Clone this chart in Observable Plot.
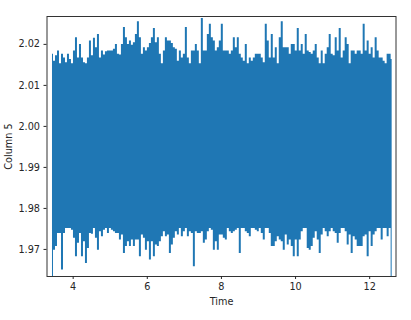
<!DOCTYPE html>
<html>
<head>
<meta charset="utf-8">
<style>html,body{margin:0;padding:0;background:#fff}svg{display:block}</style>
<script src="https://cdn.jsdelivr.net/npm/d3@7"></script>
<script src="https://cdn.jsdelivr.net/npm/@observablehq/plot@0.6"></script>
</head>
<body>
<div id="chart"></div>
<script>
const times = [3.442,3.496,3.550,3.604,3.658,3.712,3.766,3.819,3.873,3.927,
3.981,4.035,4.089,4.143,4.197,4.251,4.305,4.358,4.412,4.466,
4.520,4.574,4.628,4.682,4.736,4.790,4.844,4.898,4.951,5.005,
5.059,5.113,5.167,5.221,5.275,5.329,5.383,5.437,5.491,5.545,
5.598,5.652,5.706,5.760,5.814,5.868,5.922,5.976,6.030,6.084,
6.138,6.191,6.245,6.299,6.353,6.407,6.461,6.515,6.569,6.623,
6.677,6.730,6.784,6.838,6.892,6.946,7.000,7.054,7.108,7.162,
7.216,7.270,7.323,7.377,7.431,7.485,7.539,7.593,7.647,7.701,
7.755,7.809,7.863,7.916,7.970,8.024,8.078,8.132,8.186,8.240,
8.294,8.348,8.402,8.455,8.509,8.563,8.617,8.671,8.725,8.779,
8.833,8.887,8.941,8.995,9.048,9.102,9.156,9.210,9.264,9.318,
9.372,9.426,9.480,9.534,9.587,9.641,9.695,9.749,9.803,9.857,
9.911,9.965,10.019,10.073,10.127,10.180,10.234,10.288,10.342,10.396,
10.450,10.504,10.558,10.612,10.666,10.719,10.773,10.827,10.881,10.935,
10.989,11.043,11.097,11.151,11.205,11.259,11.312,11.366,11.420,11.474,
11.528,11.582,11.636,11.690,11.744,11.798,11.851,11.905,11.959,12.013,
12.067,12.121,12.175,12.229,12.283,12.337,12.391,12.444,12.498,12.552,
12.606];

const highs = [2.0176,2.0159,2.0172,2.0184,2.0153,2.0176,2.0167,2.0155,2.0176,2.0163,
2.0153,2.0184,2.0216,2.0167,2.02,2.0167,2.0155,2.0153,2.0167,2.0208,
2.0172,2.0215,2.0192,2.0224,2.0167,2.0184,2.0174,2.0182,2.0184,2.0184,
2.0184,2.0188,2.02,2.0176,2.0174,2.02,2.0241,2.0216,2.02,2.0208,
2.0198,2.0204,
2.0224,2.0255,2.0216,2.0176,2.0192,2.0184,2.0192,2.0202,2.0216,2.0239,
2.0204,2.0216,2.0176,2.0153,2.0184,2.0216,2.0208,2.0208,2.0202,2.0192,
2.0188,2.0159,2.0184,2.0167,2.0176,2.0241,2.0167,2.0153,2.0184,2.0184,
2.02,2.0184,2.0153,2.0263,2.0184,2.0184,2.0224,2.0249,2.0216,2.0208,
2.0184,2.0192,2.0208,
2.0249,2.0184,2.0184,2.0184,2.0176,2.0184,2.0216,2.0192,2.0216,2.0176,
2.0167,2.0159,2.02,2.0153,2.0167,2.0159,2.0167,2.0176,2.0176,2.0176,
2.0167,2.0155,2.0249,2.0208,2.0167,2.0224,2.0167,2.0192,2.0153,2.0216,
2.0255,2.0192,2.0192,2.0192,2.0176,2.02,2.02,2.0184,2.0239,2.0184,
2.02,2.0176,2.0224,
2.0184,2.018,2.0176,2.0184,2.02,2.0167,2.0153,2.0184,2.0153,2.0176,
2.0192,2.0224,2.0176,2.0172,2.0216,2.0184,2.0239,2.0167,2.0184,2.0216,
2.02,2.0153,2.0184,2.0184,2.0176,2.0184,2.0184,2.0176,2.0249,2.0184,
2.0208,2.0176,2.0192,2.0167,2.0216,2.0184,2.0167,2.0167,2.0159,2.0153,
2.0176,2.0176,2.0163];

const lows = [1.9634,1.9698,1.9707,1.9739,1.9739,1.965,1.9739,1.9751,1.9751,1.9751,
1.9747,1.9727,1.9682,1.9715,1.9739,1.9682,1.9719,1.9666,1.9702,1.9739,
1.9737,1.9751,1.9727,1.9698,1.9743,1.9731,1.9747,1.9751,1.9739,1.9751,
1.9747,1.9743,1.9739,1.9739,1.9723,1.9735,1.969,1.9707,1.9719,1.9707,
1.9723,1.9707,
1.9723,1.9723,1.9682,1.9735,1.9727,1.9698,1.9719,1.9674,1.9719,1.9682,
1.9711,1.9707,1.9719,1.9731,1.9743,1.9731,1.9735,1.969,1.9711,1.9727,
1.9743,1.9735,1.9751,1.9731,1.9743,1.9751,1.9731,1.9743,1.9739,1.9658,
1.9743,1.9739,1.9739,1.9743,1.9715,1.9723,1.9743,1.9751,1.9747,1.9698,
1.9719,1.9698,1.9735,
1.9735,1.9727,1.9723,1.9751,1.9743,1.9739,1.9743,1.9747,1.9751,1.969,
1.9751,1.9751,1.9743,1.9739,1.9731,1.9751,1.9751,1.9747,1.9743,1.9751,
1.9739,1.9723,1.9751,1.9751,1.9739,1.9707,1.9707,1.9719,1.9731,1.9723,
1.9719,1.9698,1.9735,1.9711,1.9723,1.9707,1.9682,1.9723,1.9682,1.9723,
1.9743,1.9751,1.9751,
1.9702,1.9698,1.9707,1.9727,1.9743,1.9723,1.969,1.9735,1.9751,1.9743,
1.9731,1.9743,1.9751,1.9743,1.9739,1.9715,1.9739,1.9751,1.9751,1.9743,
1.9711,1.9735,1.969,1.9731,1.9723,1.9707,1.9707,1.9707,1.9731,1.9735,
1.9682,1.9743,1.9707,1.9735,1.9743,1.9751,1.9751,1.9723,1.9751,1.9751,
1.9731,1.9751,1.9634];

const xTicks = [4, 6, 8, 10, 12];
const yTicks = [1.97, 1.98, 1.99, 2.00, 2.01, 2.02];
const xDomain = [3.294, 12.71];
const yDomain = [1.9634, 2.0268];

const chart = Plot.plot({
  width: 411,
  height: 320,
  marginLeft: 46.5,
  marginRight: 15.5,
  marginTop: 16,
  marginBottom: 44,
  style: {fontFamily: "'DejaVu Sans', sans-serif", fontSize: "9.7px", color: "#262626", background: "#fff"},
  x: {domain: xDomain},
  y: {domain: yDomain},
  marks: [
    Plot.areaY(times, {
      x: d => d,
      y1: (d, i) => lows[i],
      y2: (d, i) => highs[i],
      curve: "step",
      fill: "#1f77b4"
    }),
    Plot.frame({stroke: "#333", strokeWidth: 1}),
    Plot.axisX({ticks: xTicks, tickFormat: d => String(d), tickSize: 3, tickPadding: 4,
      label: "Time", labelAnchor: "center", labelArrow: "none", labelOffset: 28}),
    Plot.axisY({ticks: yTicks, tickFormat: d3.format(".2f"), tickSize: 3, tickPadding: 4,
      label: "Column 5", labelAnchor: "center", labelArrow: "none", labelOffset: 42})
  ]
});
document.getElementById("chart").appendChild(chart);
</script>
</body>
</html>
